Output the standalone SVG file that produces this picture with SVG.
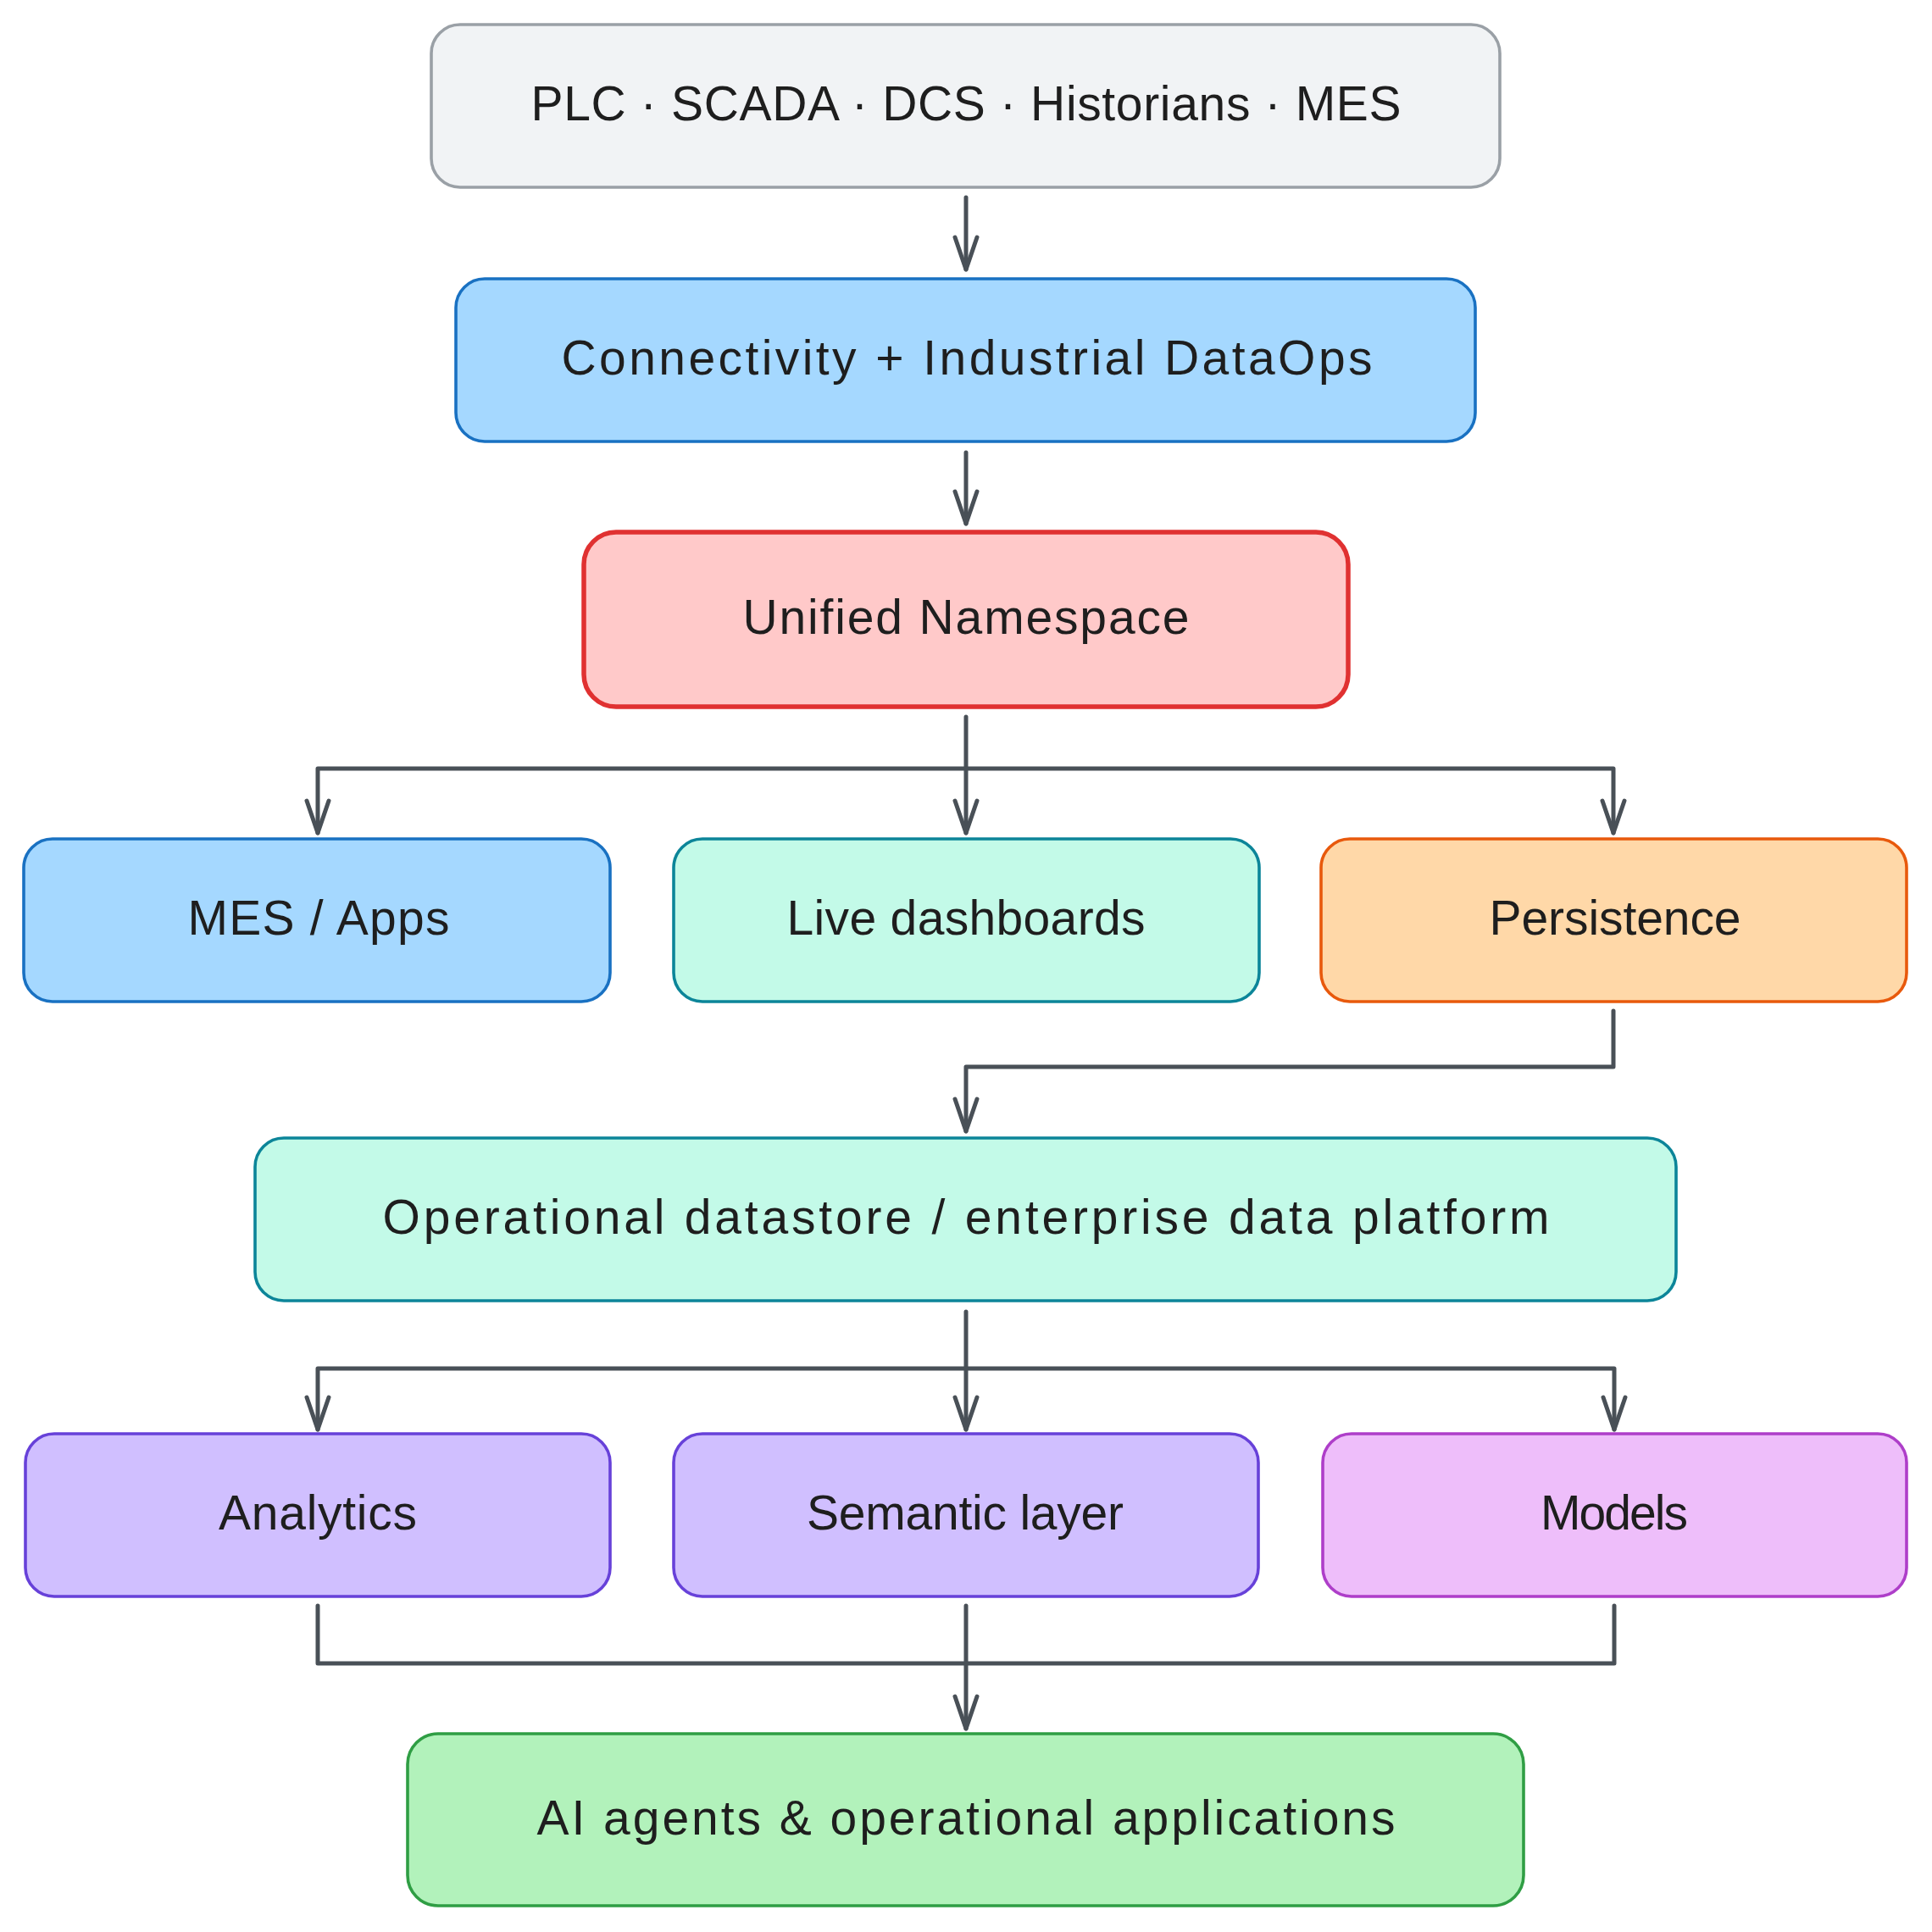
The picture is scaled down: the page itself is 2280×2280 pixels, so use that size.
<svg xmlns="http://www.w3.org/2000/svg" width="2280" height="2280" viewBox="0 0 2280 2280">
  <style>
    .box { stroke-width: 3.6; }
    .lbl { font-family: "Liberation Sans", "Open Sans", sans-serif; font-size: 57px; fill: #1e1e1e; text-anchor: middle; }
    .gray rect { fill: #f1f3f5; stroke: #9aa0a6; }
    .blue rect { fill: #a5d8ff; stroke: #1971c2; }
    .red rect { fill: #ffc9c9; stroke: #e03131; stroke-width: 5.5; }
    .teal rect { fill: #c3fae8; stroke: #0c8599; }
    .orange rect { fill: #ffd8a8; stroke: #e8590c; }
    .violet rect { fill: #d0bfff; stroke: #6741d9; }
    .grape rect { fill: #eebefa; stroke: #ae3ec9; }
    .green rect { fill: #b2f2bb; stroke: #2f9e44; }
    .conn path { fill: none; stroke: #495057; stroke-width: 5; stroke-linejoin: round; stroke-linecap: round; }
  </style>
  <defs>
    <marker id="ah" viewBox="-44 -18 50 36" refX="0" refY="0" markerWidth="50" markerHeight="36" markerUnits="userSpaceOnUse" orient="auto">
      <path d="M -38 -13 L 0 0 L -38 13" fill="none" stroke="#495057" stroke-width="5" stroke-linecap="round" stroke-linejoin="round"/>
    </marker>
  </defs>
  <rect width="2280" height="2280" fill="#ffffff"/>

  <g id="connectors" class="conn">
    <path d="M1140 233 L1140 318" marker-end="url(#ah)"/>
    <path d="M1140 534 L1140 618" marker-end="url(#ah)"/>
    <path d="M1140 846 L1140 983" marker-end="url(#ah)"/>
    <path d="M1140 907 L375 907 L375 983" marker-end="url(#ah)"/>
    <path d="M1140 907 L1904 907 L1904 983" marker-end="url(#ah)"/>
    <path d="M1904 1193 L1904 1259 L1140 1259 L1140 1335" marker-end="url(#ah)"/>
    <path d="M1140 1548 L1140 1687" marker-end="url(#ah)"/>
    <path d="M1140 1615 L375 1615 L375 1687" marker-end="url(#ah)"/>
    <path d="M1140 1615 L1905 1615 L1905 1687" marker-end="url(#ah)"/>
    <path d="M375 1895 L375 1963 L1905 1963 L1905 1895"/>
    <path d="M1140 1895 L1140 2040" marker-end="url(#ah)"/>
  </g>

  <g id="sources" class="gray">
    <rect class="box" x="509" y="29" width="1261" height="192" rx="34"/>
    <text class="lbl" x="1140" y="142" textLength="1027">PLC · SCADA · DCS · Historians · MES</text>
  </g>
  <g id="connectivity" class="blue">
    <rect class="box" x="538" y="329" width="1203" height="192" rx="34"/>
    <text class="lbl" x="1141" y="442" textLength="957">Connectivity + Industrial DataOps</text>
  </g>
  <g id="uns" class="red">
    <rect class="box" x="689" y="628" width="902" height="206" rx="38"/>
    <text class="lbl" x="1140" y="748" textLength="527">Unified Namespace</text>
  </g>
  <g id="mes" class="blue">
    <rect class="box" x="28" y="990" width="692" height="192" rx="34"/>
    <text class="lbl" x="376" y="1103" textLength="309">MES / Apps</text>
  </g>
  <g id="dashboards" class="teal">
    <rect class="box" x="795" y="990" width="691" height="192" rx="34"/>
    <text class="lbl" x="1140" y="1103" textLength="423">Live dashboards</text>
  </g>
  <g id="persistence" class="orange">
    <rect class="box" x="1559" y="990" width="691" height="192" rx="34"/>
    <text class="lbl" x="1906" y="1103" textLength="297">Persistence</text>
  </g>
  <g id="datastore" class="teal">
    <rect class="box" x="301" y="1343" width="1677" height="192" rx="34"/>
    <text class="lbl" x="1140" y="1456" textLength="1377">Operational datastore / enterprise data platform</text>
  </g>
  <g id="analytics" class="violet">
    <rect class="box" x="30" y="1692" width="690" height="192" rx="34"/>
    <text class="lbl" x="375" y="1805" textLength="234">Analytics</text>
  </g>
  <g id="semantic" class="violet">
    <rect class="box" x="795" y="1692" width="690" height="192" rx="34"/>
    <text class="lbl" x="1139" y="1805" textLength="374">Semantic layer</text>
  </g>
  <g id="models" class="grape">
    <rect class="box" x="1561" y="1692" width="689" height="192" rx="34"/>
    <text class="lbl" x="1905" y="1805" textLength="174">Models</text>
  </g>
  <g id="ai" class="green">
    <rect class="box" x="481" y="2046" width="1317" height="203" rx="36"/>
    <text class="lbl" x="1140" y="2165" textLength="1013">AI agents &amp; operational applications</text>
  </g>
</svg>
